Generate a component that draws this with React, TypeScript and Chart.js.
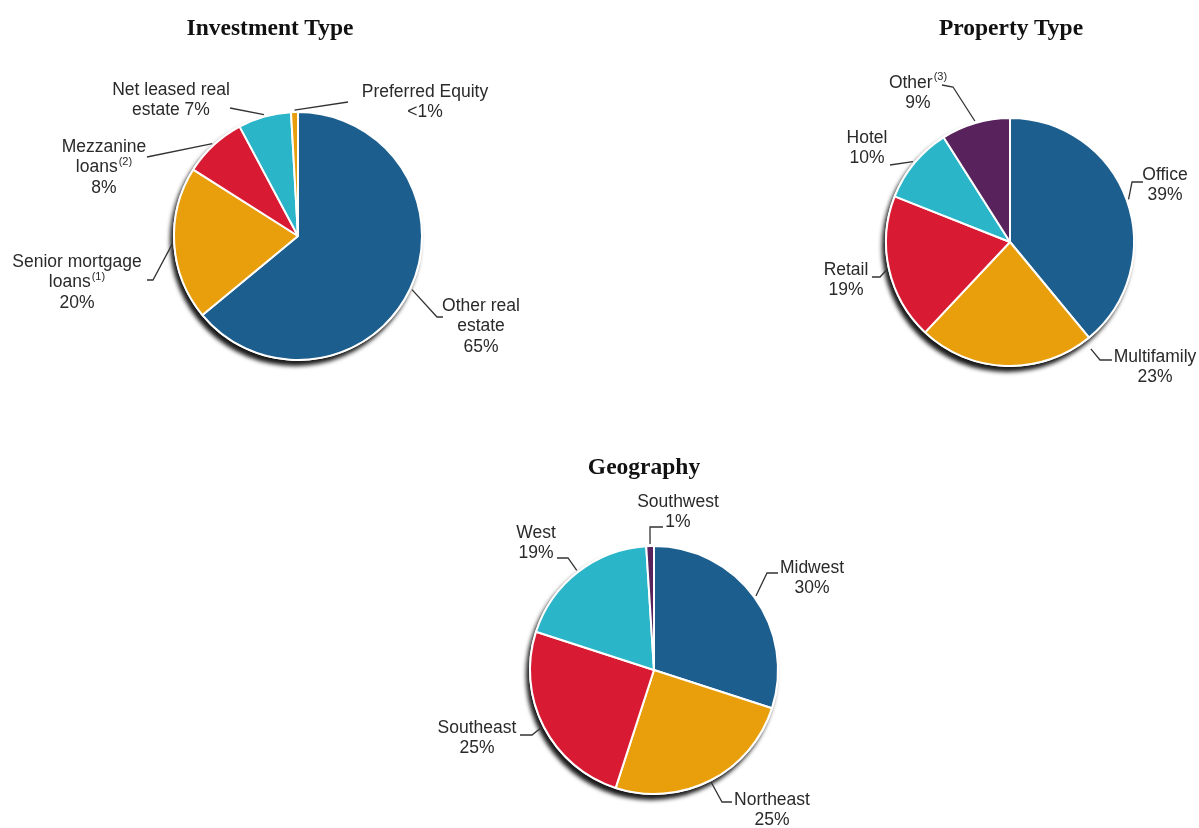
import React, { useEffect, useRef } from 'react';
import { Chart, registerables } from 'chart.js';
Chart.register(...registerables);

const W = 1199;
const H = 828;

// ---------- data ----------
const investmentCategories = ['Other real estate', 'Senior mortgage loans', 'Mezzanine loans', 'Net leased real estate', 'Preferred Equity'];
const investmentValues = [64, 20, 8.2, 6.9, 0.9];
const investmentLabelText = [['Other real', 'estate', '65%'], ['Senior mortgage', 'loans^(1)', '20%'], ['Mezzanine', 'loans^(2)', '8%'], ['Net leased real', 'estate 7%'], ['Preferred Equity', '<1%']];

const propertyCategories = ['Office', 'Multifamily', 'Retail', 'Hotel', 'Other'];
const propertyValues = [39, 23, 19, 10, 9];
const propertyLabelText = [['Office', '39%'], ['Multifamily', '23%'], ['Retail', '19%'], ['Hotel', '10%'], ['Other^(3)', '9%']];

const geographyCategories = ['Midwest', 'Northeast', 'Southeast', 'West', 'Southwest'];
const geographyValues = [30, 25, 25, 19, 1];
const geographyLabelText = [['Midwest', '30%'], ['Northeast', '25%'], ['Southeast', '25%'], ['West', '19%'], ['Southwest', '1%']];

// ---------- styles ----------
const BLUE = '#1c5e8d';
const ORANGE = '#e99f0b';
const RED = '#d81a33';
const CYAN = '#2bb5c9';
const PURPLE = '#58225c';

const investmentColors = [BLUE, ORANGE, RED, CYAN, ORANGE];
const propertyColors = [BLUE, ORANGE, RED, CYAN, PURPLE];
const geographyColors = [BLUE, ORANGE, RED, CYAN, PURPLE];

const LABEL_FONT = '"Liberation Sans", Arial, sans-serif';
const TITLE_FONT = '"Liberation Serif", "Times New Roman", serif';

type Placement = { tx: number; ty: number; pts: number[][]; at?: number; rOff?: number };

const investmentLayout = {
  cx: 298, cy: 236, r: 124, title: 'Investment Type', titleX: 270, titleY: 14,
  place: [
    { tx: 183, ty: 70, pts: [[145, 81], [139, 81]] },
    { tx: -221, ty: 26, pts: [[-151, 44], [-145, 44]] },
    { tx: -194, ty: -89, pts: [[-151, -79]] },
    { tx: -127, ty: -146, pts: [[-68, -128]] },
    { tx: 127, ty: -144, pts: [[50, -134]] },
  ] as Placement[],
};
const propertyLayout = {
  cx: 1010, cy: 242, r: 124, title: 'Property Type', titleX: 1011, titleY: 14,
  place: [
    { tx: 155, ty: -67, pts: [[133, -60], [122, -60]] },
    { tx: 145, ty: 115, pts: [[102, 118], [90, 118]], at: 0.03, rOff: 10 },
    { tx: -164, ty: 28, pts: [[-138, 35], [-130, 35]] },
    { tx: -143, ty: -104, pts: [[-120, -77]] },
    { tx: -92, ty: -159, pts: [[-68, -157], [-57, -155]] },
  ] as Placement[],
};
const geographyLayout = {
  cx: 654, cy: 670, r: 124, title: 'Geography', titleX: 644, titleY: 453,
  place: [
    { tx: 158, ty: -102, pts: [[124, -97], [113, -97]] },
    { tx: 118, ty: 130, pts: [[78, 132], [68, 132]] },
    { tx: -177, ty: 58, pts: [[-134, 65], [-122, 65]] },
    { tx: -118, ty: -137, pts: [[-97, -112], [-86, -112]] },
    { tx: 24, ty: -168, pts: [[9, -143], [-4, -143]] },
  ] as Placement[],
};

const shadowPlugin = {
  id: 'pieShadow',
  beforeDatasetsDraw(chart: any) {
    const arc = chart.getDatasetMeta(0).data[0];
    if (!arc) return;
    const ctx = chart.ctx;
    ctx.save();
    ctx.shadowColor = 'rgba(0,0,0,0.9)';
    ctx.shadowOffsetX = -3;
    ctx.shadowOffsetY = 5;
    ctx.shadowBlur = 4;
    ctx.beginPath();
    ctx.arc(arc.x, arc.y, arc.outerRadius + 1, 0, Math.PI * 2);
    ctx.fillStyle = '#ffffff';
    ctx.fill();
    ctx.restore();
  },
};

function drawRich(ctx: CanvasRenderingContext2D, text: string, x: number, y: number) {
  const parts = text.split('^');
  const main = parts[0];
  const sup = parts[1] || '';
  ctx.font = `17.5px ${LABEL_FONT}`;
  const wMain = ctx.measureText(main).width;
  ctx.font = `11px ${LABEL_FONT}`;
  const wSup = sup ? ctx.measureText(sup).width + 1 : 0;
  const left = x - (wMain + wSup) / 2;
  ctx.textAlign = 'left';
  ctx.textBaseline = 'middle';
  ctx.font = `17.5px ${LABEL_FONT}`;
  ctx.fillText(main, left, y);
  if (sup) {
    ctx.font = `11px ${LABEL_FONT}`;
    ctx.fillText(sup, left + wMain + 1, y - 6);
  }
}

function makeLabelPlugin(place: Placement[], text: string[][]) {
  return {
    id: 'pieLabels',
    afterDatasetsDraw(chart: any) {
      const meta = chart.getDatasetMeta(0);
      const ctx: CanvasRenderingContext2D = chart.ctx;
      ctx.save();
      meta.data.forEach((arc: any, i: number) => {
        const p = place[i];
        const lines = text[i];
        if (!p || !lines) return;
        const cx = arc.x;
        const cy = arc.y;
        const frac = p.at ?? 0.5;
        const ang = arc.startAngle + (arc.endAngle - arc.startAngle) * frac;
        const rr = arc.outerRadius + (p.rOff ?? 2);
        const ex = cx + Math.cos(ang) * rr;
        const ey = cy + Math.sin(ang) * rr;
        ctx.strokeStyle = '#333333';
        ctx.lineWidth = 1.3;
        ctx.beginPath();
        p.pts.forEach((pt, k) => {
          if (k === 0) ctx.moveTo(cx + pt[0], cy + pt[1]);
          else ctx.lineTo(cx + pt[0], cy + pt[1]);
        });
        ctx.lineTo(ex, ey);
        ctx.stroke();
        ctx.fillStyle = '#2a2a2a';
        lines.forEach((ln, k) => drawRich(ctx, ln, cx + p.tx, cy + p.ty + k * 20.5));
      });
      ctx.restore();
    },
  };
}

function PieCanvas({ layout, categories, values, colors, text }: any) {
  const ref = useRef<HTMLCanvasElement>(null);
  useEffect(() => {
    if (!ref.current) return;
    const half = 150;
    const chart = new Chart(ref.current, {
      type: 'pie',
      data: {
        labels: categories,
        datasets: [
          {
            data: values,
            backgroundColor: colors,
            borderColor: '#ffffff',
            borderWidth: 2,
            radius: layout.r,
          } as any,
        ],
      },
      options: {
        responsive: false,
        animation: false,
        layout: {
          padding: {
            left: layout.cx - half,
            right: W - layout.cx - half,
            top: layout.cy - half,
            bottom: H - layout.cy - half,
          },
        },
        plugins: {
          legend: { display: false },
          tooltip: { enabled: false },
        },
      },
      plugins: [shadowPlugin, makeLabelPlugin(layout.place, text)],
    });
    return () => chart.destroy();
  }, []);
  return (
    <canvas
      ref={ref}
      width={W}
      height={H}
      style={{ position: 'absolute', left: 0, top: 0, width: W, height: H }}
    />
  );
}

function Title({ text, x, y }: { text: string; x: number; y: number }) {
  return (
    <div
      style={{
        position: 'absolute',
        left: x - 200,
        top: y,
        width: 400,
        textAlign: 'center',
        font: `bold 23.5px ${TITLE_FONT}`,
        lineHeight: '26px',
        color: '#111',
      }}
    >
      {text}
    </div>
  );
}

export default function App() {
  return (
    <div style={{ position: 'fixed', left: 0, top: 0, width: W, height: H, background: '#fff', overflow: 'hidden' }}>
      <PieCanvas layout={investmentLayout} categories={investmentCategories} values={investmentValues} colors={investmentColors} text={investmentLabelText} />
      <PieCanvas layout={propertyLayout} categories={propertyCategories} values={propertyValues} colors={propertyColors} text={propertyLabelText} />
      <PieCanvas layout={geographyLayout} categories={geographyCategories} values={geographyValues} colors={geographyColors} text={geographyLabelText} />
      <Title text={investmentLayout.title} x={investmentLayout.titleX} y={investmentLayout.titleY} />
      <Title text={propertyLayout.title} x={propertyLayout.titleX} y={propertyLayout.titleY} />
      <Title text={geographyLayout.title} x={geographyLayout.titleX} y={geographyLayout.titleY} />
    </div>
  );
}
